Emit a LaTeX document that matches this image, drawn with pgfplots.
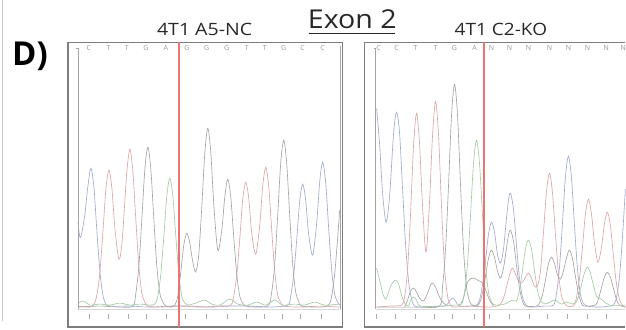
\documentclass[border=0pt]{standalone}
\usepackage{pgfplots}
\pgfplotsset{compat=1.18}
\usepackage{fontspec}
\setmainfont{Open Sans}
\usepackage{graphicx}
\definecolor{cC}{RGB}{160,170,208}
\definecolor{cT}{RGB}{222,165,165}
\definecolor{cG}{RGB}{165,165,165}
\definecolor{cA}{RGB}{165,202,165}
\definecolor{redln}{RGB}{236,115,115}
\definecolor{framec}{RGB}{125,125,125}
\definecolor{seq}{RGB}{150,150,150}
\definecolor{tick}{RGB}{170,170,170}
\definecolor{txt}{RGB}{40,40,40}
\begin{document}
\begin{tikzpicture}
\begin{axis}[x=1pt,y=1pt,xmin=0,xmax=626,ymin=0,ymax=329,y dir=reverse,
  hide axis,scale only axis,clip=false,unbounded coords=jump,
  every axis plot/.append style={line width=0.65pt,no markers}]
\addplot[draw=none] coordinates {(0,0)(626,329)};
% page border line
\addplot[sharp plot,color={rgb,255:red,200;green,200;blue,200},line width=0.8pt] coordinates {(2.5,0)(2.5,321)};
% ---------- LEFT PANEL ----------
\addplot[sharp plot,color={rgb,255:red,215;green,215;blue,215},line width=0.6pt] coordinates {(78,309)(341,309)};
% C (blue)
\addplot[smooth,cC] coordinates {(78,222)(80,237)(82,232)(85,214)(88,186)(91,168)(94,187)(97,231)(100,271)(103,295)(106,304)(110,306)(130,306)(150,307)(170,306)(190,306)(210,307)(230,306)(250,306)(270,307)(288,305)(291,296)(294,275)(297,240)(300,201)(303,184)(306,200)(309,234)(313,255)(317,223)(320,182)(323,162)(326,182)(329,228)(332,270)(335,294)(338,302)(340,305)};
% T (red)
\addplot[smooth,cT] coordinates {(78,306)(90,307)(94,304)(97,295)(100,272)(103,232)(106,189)(109,170)(112,188)(115,228)(119,259)(122,244)(125,201)(127,171)(130,149)(133,171)(136,220)(139,266)(142,293)(145,302)(148,306)(160,307)(180,306)(200,307)(220,306)(231,305)(234,296)(237,275)(240,239)(243,199)(246,182)(249,198)(252,233)(256,254)(260,225)(263,186)(266,167)(269,186)(272,230)(275,271)(278,295)(281,302)(284,306)(300,307)(320,306)(340,307)};
% G (grey)
\addplot[smooth,cG] coordinates {(78,307)(100,306)(120,307)(133,306)(136,293)(139,266)(142,219)(145,169)(148,147)(151,169)(154,219)(157,266)(160,293)(163,302)(166,306)(172,307)(175,305)(178,296)(181,272)(184,245)(187,233)(190,243)(193,262)(196,272)(199,254)(202,207)(205,153)(208,128)(211,152)(214,204)(218,250)(222,230)(225,197)(228,179)(231,197)(234,237)(237,274)(240,296)(243,303)(246,306)(260,307)(269,305)(272,292)(275,264)(278,215)(281,163)(284,140)(287,163)(290,215)(293,264)(296,292)(299,301)(302,306)(320,307)(329,305)(332,296)(335,274)(338,238)(340,210)};
% A (green)
\addplot[smooth,cA] coordinates {(78,303)(84,301)(90,305)(100,304)(110,305)(120,303)(130,305)(140,304)(150,305)(155,304)(158,296)(161,274)(164,236)(167,196)(170,178)(173,196)(176,236)(179,274)(182,296)(185,303)(188,305)(196,303)(205,300)(212,304)(220,305)(230,299)(238,304)(248,305)(257,302)(266,305)(275,300)(283,305)(295,304)(305,305)(315,302)(325,305)(340,304)};
% base ticks (short vertical dashes)
\addplot[sharp plot,color=tick,line width=0.7pt] coordinates {(89,313.5)(89,318.5)(89,nan)(108,313.5)(108,318.5)(108,nan)(128,313.5)(128,318.5)(128,nan)(146,313.5)(146,318.5)(146,nan)(167,313.5)(167,318.5)(167,nan)(186,313.5)(186,318.5)(186,nan)(207,313.5)(207,318.5)(207,nan)(228,313.5)(228,318.5)(228,nan)(247,313.5)(247,318.5)(247,nan)(265,313.5)(265,318.5)(265,nan)(283,313.5)(283,318.5)(283,nan)(301,313.5)(301,318.5)(301,nan)(322,313.5)(322,318.5)};
% frame
\addplot[sharp plot,color={rgb,255:red,165;green,165;blue,165},line width=0.8pt] coordinates {(76,48)(78,48)(78,309)};
\addplot[sharp plot,color={rgb,255:red,165;green,165;blue,165},line width=0.8pt] coordinates {(340.5,46)(340.5,309)};
\addplot[sharp plot,color=framec,line width=1.3pt] coordinates {(68,42)(343,42)(343,327)(68,327)(68,42)};
% ---------- RIGHT PANEL ----------
\addplot[sharp plot,color={rgb,255:red,215;green,215;blue,215},line width=0.6pt] coordinates {(376,309)(626,309)};
% C (blue)
\addplot[smooth,cC] coordinates {(377,108)(380,144)(383,193)(386.5,222)(390,196)(394,133)(397,112)(400,133)(403,189)(406,244)(409,281)(412,299)(415,306)(425,307)(440,306)(446,306)(450,301)(453,298)(456,301)(460,306)(470,306)(477,305)(480,300)(483,285)(486,261)(489,234)(492,222)(495,232)(498,254)(501,263)(504,249)(507,218)(509,200)(511,193)(514,209)(517,245)(520,278)(523,297)(526,304)(530,307)(545,306)(554,305)(557,294)(560,268)(563,224)(566,177)(569,156)(572,177)(575,224)(578,268)(581,294)(584,303)(588,306)(600,307)(610,306)(614,305)(617,298)(620,278)(623,239)(626,189)};
% T (red)
\addplot[smooth,cT] coordinates {(377,307)(390,306)(402,305)(405,297)(408,269)(411,213)(414,145)(417,113)(420,144)(423,206)(426.5,252)(430,201)(433,135)(436,101)(439,135)(442,207)(445,267)(448,296)(451,305)(455,307)(470,306)(490,307)(500,305)(504,298)(507,287)(510,275)(513,268)(516,274)(519,281)(522,283)(525,279)(529,273)(532,278)(535,286)(538,286)(541,271)(544,233)(547,192)(550,173)(553,192)(556,234)(559,273)(562,295)(565,303)(568,306)(574,306)(577,298)(580,279)(583,248)(586,214)(589,199)(592,213)(595,242)(598.5,262)(602,248)(605,224)(608,212)(611,225)(614,255)(617,283)(620,299)(623,305)(626,307)};
% G (grey)
\addplot[smooth,cG] coordinates {(377,307)(420,307)(440,306)(443,287)(446,249)(449,185)(452,115)(455,84)(458,115)(461,185)(464,249)(467,287)(470,301)(473,305)(477,306)(480,303)(483,293)(486,276)(489,258)(492,250)(495,257)(498,271)(501,278)(504,268)(507,248)(509,235)(511,230)(514,241)(517,265)(520,288)(523,301)(526,306)(537,306)(540,303)(543,295)(546,280)(549,264)(552,257)(555,263)(558,275)(561,279)(564,271)(567,258)(570,250)(573,258)(576,276)(579,293)(582,303)(585,306)(596,305)(599,299)(602,288)(605,277)(608,272)(611,277)(614,288)(617,299)(620,305)(626,307)};
\addplot[smooth,cG] coordinates {(405,307)(408,300)(411,291)(414,288)(417,292)(420,298)(424,301)(428,293)(431,285)(433,283)(436,287)(440,297)(444,303)(448,306)};
\addplot[smooth,cG] coordinates {(460,306)(464,298)(468,282)(473,278)(478,280)(483,283)(487,292)(490,300)(494,306)};
% A (green)
\addplot[smooth,cA] coordinates {(377,268)(380,280)(383,293)(386,299)(389,292)(392,284)(396,280)(399,284)(402,295)(405,303)(409,306)(411,300)(414,297)(417,300)(421,306)(440,306)(455,305)(462,304)(465,292)(468,264)(471,215)(474,163)(477,140)(480,163)(483,215)(486,264)(489,292)(492,302)(496,305)(505,304)(513,300)(517,301)(520,290)(523,270)(526,249)(529,240)(532,249)(535,270)(538,290)(541,300)(546,304)(555,300)(562,304)(567,302)(573,304)(576,303)(579,297)(582,285)(585,273)(588,267)(591,273)(594,285)(597,296)(600,298)(603,300)(610,305)(626,305)};
% base ticks (short vertical dashes)
\addplot[sharp plot,color=tick,line width=0.7pt] coordinates {(377,313.5)(377,318.5)(377,nan)(396,313.5)(396,318.5)(396,nan)(416,313.5)(416,318.5)(416,nan)(435,313.5)(435,318.5)(435,nan)(453,313.5)(453,318.5)(453,nan)(475,313.5)(475,318.5)(475,nan)(490,313.5)(490,318.5)(490,nan)(510,313.5)(510,318.5)(510,nan)(530,313.5)(530,318.5)(530,nan)(548,313.5)(548,318.5)(548,nan)(568,313.5)(568,318.5)(568,nan)(588,313.5)(588,318.5)(588,nan)(607,313.5)(607,318.5)};
% frame
\addplot[sharp plot,color={rgb,255:red,165;green,165;blue,165},line width=0.8pt] coordinates {(374,48)(376,48)(376,309)};
\addplot[sharp plot,color=framec,line width=1.3pt] coordinates {(626,42)(365,42)(365,327)(626,327)};
% red cursor lines
\addplot[sharp plot,color=redln,line width=1.5pt] coordinates {(179,42)(179,327)};
\addplot[sharp plot,color=redln,line width=1.5pt] coordinates {(484.5,42)(484.5,327)};
% ---------- TEXT ----------
\node[anchor=base west,inner sep=0,text=black,font=\fontsize{33}{33}\selectfont\bfseries] at (axis cs:12,65) {D)};
\node[anchor=base west,inner sep=0,text=txt,font=\fontsize{26}{26}\selectfont] at (axis cs:308,28) {\scalebox{1.1}[1]{Exon 2}};
\addplot[sharp plot,color=txt,line width=1.4pt] coordinates {(309,33)(395,33)};
\node[anchor=base west,inner sep=0,text=txt,font=\fontsize{17}{17}\selectfont] at (axis cs:157,35) {\scalebox{1.15}[1]{4T1 A5-NC}};
\node[anchor=base west,inner sep=0,text=txt,font=\fontsize{17}{17}\selectfont] at (axis cs:455,35) {\scalebox{1.12}[1]{4T1 C2-KO}};
% sequence letters
\begin{scope}[every node/.style={inner sep=0,text=seq,font=\fontsize{7}{7}\selectfont,anchor=base}]
\node at (axis cs:89,50) {C};\node at (axis cs:109,50) {T};\node at (axis cs:127,50) {T};
\node at (axis cs:146,50) {G};\node at (axis cs:166,50) {A};\node at (axis cs:187,50) {G};
\node at (axis cs:207,50) {G};\node at (axis cs:227,50) {G};\node at (axis cs:247,50) {T};
\node at (axis cs:265,50) {T};\node at (axis cs:284,50) {G};\node at (axis cs:303,50) {C};
\node at (axis cs:323,50) {C};
\node at (axis cs:379,50) {C};\node at (axis cs:397,50) {C};\node at (axis cs:416,50) {T};
\node at (axis cs:436,50) {T};\node at (axis cs:455,50) {G};\node at (axis cs:475,50) {A};
\node at (axis cs:492,50) {N};\node at (axis cs:510,50) {N};\node at (axis cs:529,50) {N};
\node at (axis cs:550,50) {N};\node at (axis cs:569,50) {N};\node at (axis cs:588,50) {N};
\node at (axis cs:607,50) {N};\node at (axis cs:624,50) {N};
\end{scope}
\end{axis}
\end{tikzpicture}
\end{document}
